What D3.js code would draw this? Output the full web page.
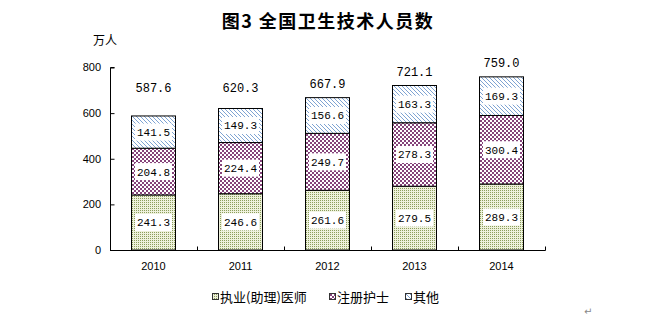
<!DOCTYPE html>
<html>
<head>
<meta charset="utf-8">
<script src="https://cdn.jsdelivr.net/npm/d3@7"></script>
<style>
  html, body { margin: 0; padding: 0; background: #fff; }
  svg { display: block; }
</style>
</head>
<body>
<svg id="chart" width="651" height="327"></svg>
<script>
// Health technical personnel by year (unit: 10,000 people)
const years = ["2010", "2011", "2012", "2013", "2014"];
const doctors = [241.3, 246.6, 261.6, 279.5, 289.3];   // 执业(助理)医师
const nurses = [204.8, 224.4, 249.7, 278.3, 300.4];    // 注册护士
const others = [141.5, 149.3, 156.6, 163.3, 169.3];    // 其他
const totals = [587.6, 620.3, 667.9, 721.1, 759.0];
const seriesNames = ["执业(助理)医师", "注册护士", "其他"];
const yTicks = [0, 200, 400, 600, 800];

const svg = d3.select("#chart");
const defs = svg.append("defs");

// Fill patterns
const pDoc = defs.append("pattern").attr("id", "pDoc")
  .attr("patternUnits", "userSpaceOnUse").attr("width", 2).attr("height", 2);
pDoc.append("rect").attr("width", 2).attr("height", 2).attr("fill", "#eef1dc");
pDoc.append("rect").attr("width", 1).attr("height", 1).attr("fill", "#8c9e5c");

const pNur = defs.append("pattern").attr("id", "pNur")
  .attr("patternUnits", "userSpaceOnUse").attr("width", 4).attr("height", 4);
pNur.append("rect").attr("width", 4).attr("height", 4).attr("fill", "#ffffff");
pNur.append("rect").attr("width", 2).attr("height", 2).attr("fill", "#85437a");
pNur.append("rect").attr("x", 2).attr("y", 2).attr("width", 2).attr("height", 2).attr("fill", "#85437a");

const pOth = defs.append("pattern").attr("id", "pOth")
  .attr("patternUnits", "userSpaceOnUse").attr("width", 4).attr("height", 4);
pOth.append("rect").attr("width", 4).attr("height", 4).attr("fill", "#ffffff");
pOth.append("path").attr("d", "M0,0L4,4M-1,3L1,5M3,-1L5,1")
  .attr("stroke", "#7ea3d2").attr("stroke-width", 1).attr("fill", "none");

const fills = ["url(#pDoc)", "url(#pNur)", "url(#pOth)"];

// Scales
const x = d3.scaleBand().domain(years).range([110, 545])
  .paddingInner(0.494).paddingOuter(0.247);
const y = d3.scaleLinear().domain([0, 800]).range([250, 67.5]);

// Title
svg.append("text")
  .attr("x", 328).attr("y", 28)
  .attr("text-anchor", "middle")
  .attr("font-family", "'Noto Sans CJK SC', sans-serif")
  .attr("font-weight", "bold")
  .attr("font-size", 18)
  .attr("letter-spacing", 1.5)
  .text("图3 全国卫生技术人员数");

// Unit label
svg.append("text")
  .attr("x", 93).attr("y", 45)
  .attr("font-family", "'Noto Sans CJK SC', sans-serif")
  .attr("font-size", 12)
  .text("万人");

// Stacked data
const rows = years.map((yr, i) => ({ year: yr, doctors: doctors[i], nurses: nurses[i], others: others[i] }));
const stack = d3.stack().keys(["doctors", "nurses", "others"]);
const layers = stack(rows);

const bars = svg.append("g");
layers.forEach((layer, li) => {
  bars.selectAll(null).data(layer).enter().append("rect")
    .attr("x", d => Math.round(x(d.data.year)) + 0.5)
    .attr("y", d => y(d[1]))
    .attr("width", Math.round(x.bandwidth()))
    .attr("height", d => y(d[0]) - y(d[1]))
    .attr("fill", fills[li])
    .attr("stroke", "#000")
    .attr("stroke-width", 1);
});

// Segment value labels in white boxes
const lab = svg.append("g")
  .attr("font-family", "'Liberation Mono', monospace")
  .attr("font-size", 11);
layers.forEach(layer => {
  layer.forEach(d => {
    const cx = Math.round(x(d.data.year)) + 0.5 + Math.round(x.bandwidth()) / 2;
    const cy = (y(d[0]) + y(d[1])) / 2;
    lab.append("rect")
      .attr("x", cx - 18.5).attr("y", cy - 8.5)
      .attr("width", 37).attr("height", 17)
      .attr("fill", "#fff");
    lab.append("text")
      .attr("x", cx).attr("y", cy)
      .attr("dy", "0.36em")
      .attr("text-anchor", "middle")
      .text((d[1] - d[0]).toFixed(1));
  });
});

// Totals above bars
svg.append("g")
  .attr("font-family", "'Liberation Mono', monospace")
  .attr("font-size", 12)
  .selectAll("text").data(years).enter().append("text")
  .attr("x", d => x(d) + x.bandwidth() / 2)
  .attr("y", (d, i) => Math.min(y(totals[i]) - 14, 88))
  .attr("dy", "0.36em")
  .attr("text-anchor", "middle")
  .text((d, i) => totals[i].toFixed(1));

// Y axis: ticks point inward
const yAxis = d3.axisRight(y).tickValues(yTicks).tickSize(4).tickFormat("");
svg.append("g").attr("transform", "translate(110.5,0)").call(yAxis)
  .call(g => g.select(".domain").attr("d", `M4,${y(800)}H0V${y(0)}`));
svg.append("g")
  .attr("font-family", "'Liberation Sans', Arial, sans-serif")
  .attr("font-size", 11)
  .selectAll("text").data(yTicks).enter().append("text")
  .attr("x", 101).attr("y", d => y(d))
  .attr("dy", "0.35em")
  .attr("text-anchor", "end")
  .text(d => d);

// X axis: category separators tick upward
const xg = svg.append("g");
xg.append("line")
  .attr("x1", 110).attr("x2", 545.5)
  .attr("y1", 250.5).attr("y2", 250.5)
  .attr("stroke", "#000");
const step = x.step();
const bounds = years.map((d, i) => 110 + step * (i + 1));
xg.selectAll(".sep").data(bounds).enter().append("line")
  .attr("x1", d => Math.round(d) + 0.5).attr("x2", d => Math.round(d) + 0.5)
  .attr("y1", 250.5).attr("y2", 246.5)
  .attr("stroke", "#000");
xg.selectAll(".cat").data(years).enter().append("text")
  .attr("x", d => x(d) + x.bandwidth() / 2)
  .attr("y", 270)
  .attr("text-anchor", "middle")
  .attr("font-family", "'Liberation Sans', Arial, sans-serif")
  .attr("font-size", 11)
  .text(d => d);

// Legend
const legendX = [212, 329, 405];
const leg = svg.append("g");
seriesNames.forEach((name, i) => {
  leg.append("rect")
    .attr("x", legendX[i] + 0.5).attr("y", 293.5)
    .attr("width", 6).attr("height", 6)
    .attr("fill", fills[i])
    .attr("stroke", "#333");
  leg.append("text")
    .attr("x", legendX[i] + 8).attr("y", 297)
    .attr("dy", "0.36em")
    .attr("font-family", "'Noto Sans CJK SC', sans-serif")
    .attr("font-size", 13)
    .text(name);
});

// Paragraph mark
svg.append("text")
  .attr("x", 584).attr("y", 315)
  .attr("font-family", "'DejaVu Sans', sans-serif")
  .attr("font-size", 10)
  .attr("fill", "#888")
  .text("↵");
</script>
</body>
</html>
